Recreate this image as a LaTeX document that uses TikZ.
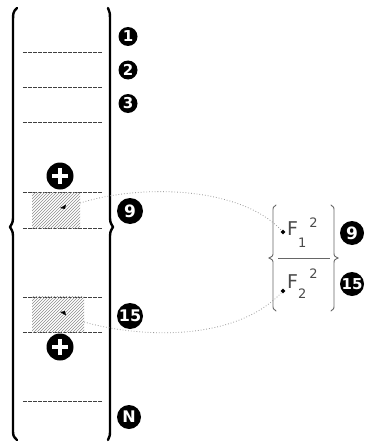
\documentclass[tikz,border=0pt]{standalone}
\usepackage{fontspec}
\setmainfont{DejaVu Sans}
\usetikzlibrary{patterns,shapes.geometric}
\definecolor{txtgray}{HTML}{4A4A4A}
\begin{document}
\begin{tikzpicture}[x=1pt,y=-1pt,
  numc/.style={circle,fill=black,text=white,inner sep=0pt,minimum size=19pt,
    font=\bfseries\fontsize{15}{15}\selectfont},
  bignum/.style={numc,minimum size=26pt,font=\bfseries\fontsize{17}{17}\selectfont},
  midnum/.style={numc,minimum size=24pt,font=\bfseries\fontsize{16}{16}\selectfont},
  sepline/.style={draw=black!75,dash pattern=on 4pt off 1pt,line width=0.7pt},
  bigbrace/.style={line width=2.4pt,line cap=round,line join=round},
  smallbrace/.style={draw=black!60,line width=0.9pt,line cap=round},
  hatchbox/.style={pattern=north east lines,pattern color=black!45,draw=none,
    inner sep=0pt,minimum width=#1,minimum height=36pt},
  link/.style={draw=black!40,dotted,line width=0.8pt},
  plusc/.style={circle,fill=black,minimum size=27pt,inner sep=0pt},
  plusbar/.style={white,line width=3.4pt},
  ftext/.style={text=txtgray,inner sep=0pt,anchor=base west,font=\fontsize{19}{19}\selectfont},
  dotmark/.style={diamond,fill=black,inner sep=0pt,minimum size=5pt},
  ]
\useasboundingbox (0,0) rectangle (365,444);

% big braces
\draw[bigbrace] (17,8) .. controls (13,12) .. (13,25) -- (13,214)
  .. controls (13,222) .. (10,227) .. controls (13,232) .. (13,240)
  -- (13,428) .. controls (13,436) .. (17,440);
\draw[bigbrace] (108,8) .. controls (110,12) .. (110,25) -- (110,214)
  .. controls (110,222) .. (113,227) .. controls (110,232) .. (110,240)
  -- (110,428) .. controls (110,436) .. (108,440);

% separator lines
\foreach \yy in {52,87,122,192,228,297,332,401}
  \draw[sepline] (23,\yy) -- (102,\yy);

% hatched boxes
\node[hatchbox=48pt] (h1) at (56,210) {};
\node[hatchbox=52pt] (h2) at (58,314.5) {};
\fill (60,208) -- (66,204.5) -- (65,209) -- cycle;
\fill (60,312) -- (66,315.5) -- (65,311) -- cycle;

% plus circles
\node[plusc] (p1) at (60,176) {};
\node[plusc] (p2) at (60,347) {};
\foreach \p in {p1,p2}{
  \draw[plusbar] ([xshift=-8pt]\p.center) -- ([xshift=8pt]\p.center);
  \draw[plusbar] ([yshift=-8pt]\p.center) -- ([yshift=8pt]\p.center);
}

% number circles
\node[numc] (n1) at (128,36.5) {1};
\node[numc] (n2) at (128,70) {2};
\node[numc] (n3) at (128,103.5) {3};
\node[bignum] (n9) at (130,211) {9};
\node[bignum,font=\bfseries\fontsize{16}{16}\selectfont] (n15) at (130,316) {15};
\node[midnum] (nN) at (129,417) {N};

% small matrix
\draw[smallbrace] (276,205) .. controls (273,207) .. (273,212) -- (273,252)
  .. controls (273,256) .. (269,258) .. controls (273,260) .. (273,264)
  -- (273,304) .. controls (273,309) .. (276,311);
\draw[smallbrace] (331,205) .. controls (334,207) .. (334,212) -- (334,252)
  .. controls (334,256) .. (338,258) .. controls (334,260) .. (334,264)
  -- (334,304) .. controls (334,309) .. (331,311);
\draw[draw=black!60,line width=0.9pt] (278,258) -- (330,258);

\node[dotmark] (d1) at (283,232) {};
\node[dotmark] (d2) at (283,291) {};
\node[ftext] (f1) at (287,235) {F\raisebox{-12pt}{\fontsize{13}{13}\selectfont 1}\kern3pt\raisebox{8pt}{\fontsize{13}{13}\selectfont 2}};
\node[ftext] (f2) at (287,288) {F\raisebox{-10pt}{\fontsize{13}{13}\selectfont 2}\kern3pt\raisebox{10pt}{\fontsize{13}{13}\selectfont 2}};

\node[bignum,minimum size=24pt] (m9) at (352,233) {9};
\node[bignum,minimum size=24pt,font=\bfseries\fontsize{15}{15}\selectfont] (m15) at (352,284) {15};

% dotted links
\draw[link] (h1.east |- 0,203) .. controls (140,184) and (240,186) .. (d1);
\draw[link] (h2.east |- 0,322) .. controls (140,338) and (235,342) .. (d2);
\end{tikzpicture}
\end{document}
